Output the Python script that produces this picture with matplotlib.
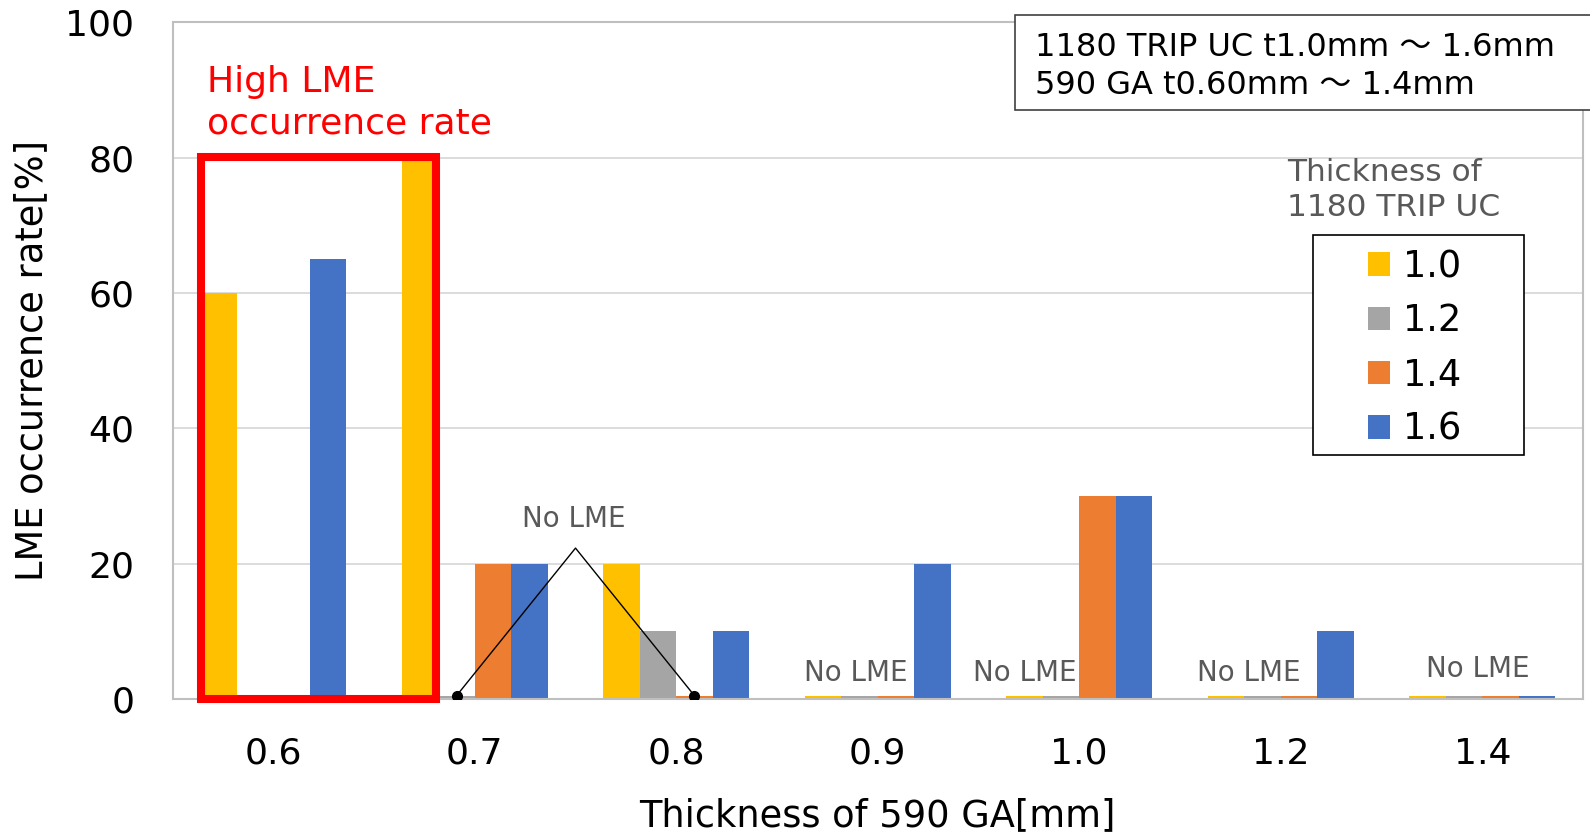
import numpy as np
import matplotlib
matplotlib.use('Agg')
import matplotlib.pyplot as plt
from matplotlib.patches import Rectangle

plt.rcParams['font.family'] = ['DejaVu Sans', 'Noto Sans CJK JP']

# data
categories = ['0.6', '0.7', '0.8', '0.9', '1.0', '1.2', '1.4']
series_names = ['1.0', '1.2', '1.4', '1.6']
rate_10 = [60, 80, 20, 0.5, 0.5, 0.5, 0.5]
rate_12 = [0, 0.5, 10, 0.5, 0.5, 0.5, 0.5]
rate_14 = [0, 20, 0.5, 0.5, 30, 0.5, 0.5]
rate_16 = [65, 20, 10, 20, 30, 10, 0.5]
colors = ['#FFC000', '#A5A5A5', '#ED7D31', '#4472C4']

W, H = 1590, 835
fig = plt.figure(figsize=(W / 100, H / 100), dpi=100)

# axes placed in pixel terms
left, right, top, bottom = 172.5, 1583, 22.3, 699
ax = fig.add_axes([left / W, 1 - bottom / H, (right - left) / W, (bottom - top) / H])

x = np.arange(len(categories))
w = 0.181
for k, vals in enumerate([rate_10, rate_12, rate_14, rate_16]):
    ax.bar(x + (k - 1.5) * w, vals, w, color=colors[k], label=series_names[k], zorder=2)

ax.set_xlim(-0.5, len(categories) - 0.5)
ax.set_ylim(0, 100)
ax.set_yticks([0, 20, 40, 60, 80, 100])
ax.set_xticks(x)
ax.set_xticklabels(categories)
ax.set_axisbelow(True)
ax.grid(axis='y', color='#D9D9D9', lw=1.3)
for s in ax.spines.values():
    s.set_color('#BFBFBF')
    s.set_linewidth(1.5)
ax.tick_params(axis='both', length=0, labelsize=26)
ax.tick_params(axis='y', pad=27.5)
ax.tick_params(axis='x', pad=27)

ax.set_ylabel('LME occurrence rate[%]', fontsize=26.5, va='center')
ax.yaxis.set_label_coords(-0.1, 0.5)
ax.set_xlabel('Thickness of 590 GA[mm]', fontsize=26.5, va='center')
ax.xaxis.set_label_coords(0.5, -0.173)

# red highlight box
ax.add_patch(Rectangle((-0.36, 0), 1.17, 80.1, fill=False, edgecolor='#FF0000',
                       lw=5.8, clip_on=False, zorder=4))
ax.text(-0.33, 88.1, 'High LME\noccurrence rate', color='#FF0000', fontsize=26,
        va='center', ha='left', linespacing=1.3)

# "No LME" annotations
ax.plot([0.91, 1.5, 2.09], [0.5, 22.3, 0.5], color='black', lw=1, zorder=5)
ax.plot([0.91, 2.09], [0.5, 0.5], 'o', color='black', ms=7, zorder=5)
ax.text(1.49, 26.6, 'No LME', color='#595959', fontsize=20, ha='center', va='center')
for xp, yp in [(2.89, 3.8), (3.73, 3.8), (4.84, 3.8), (5.98, 4.4)]:
    ax.text(xp, yp, 'No LME', color='#595959', fontsize=20, ha='center', va='center')

# legend box drawn separately, legend entries inside
ax.add_patch(Rectangle((1313 / W, 1 - 455 / H), 211 / W, 220 / H, transform=fig.transFigure,
                       facecolor='white', edgecolor='black', lw=1.2, clip_on=False, zorder=6))
leg = ax.legend(loc='upper left', bbox_to_anchor=(1368 / W, 1 - 248 / H),
                bbox_transform=fig.transFigure, frameon=False, fontsize=26.5,
                handlelength=0.6, handleheight=0.6, handletextpad=0.35,
                labelspacing=0.47, borderpad=0, borderaxespad=0)
leg.set_zorder(7)
fig.text(1287 / W, 1 - 190 / H, 'Thickness of\n1180 TRIP UC', color='#595959',
         fontsize=22.5, ha='left', va='center', linespacing=1.25)

# condition box at top right
fig.patches.append(Rectangle((1015 / W, 1 - 110 / H), 600 / W, 95 / H, transform=fig.transFigure,
                             facecolor='white', edgecolor='#404040', lw=1.2, zorder=3))
fig.text(1035 / W, 1 - 47 / H, '1180 TRIP UC t1.0mm ～ 1.6mm', fontsize=23,
         ha='left', va='center', zorder=4)
fig.text(1035 / W, 1 - 85 / H, '590 GA t0.60mm ～ 1.4mm', fontsize=23,
         ha='left', va='center', zorder=4)

fig.savefig('out.png', dpi=100)
